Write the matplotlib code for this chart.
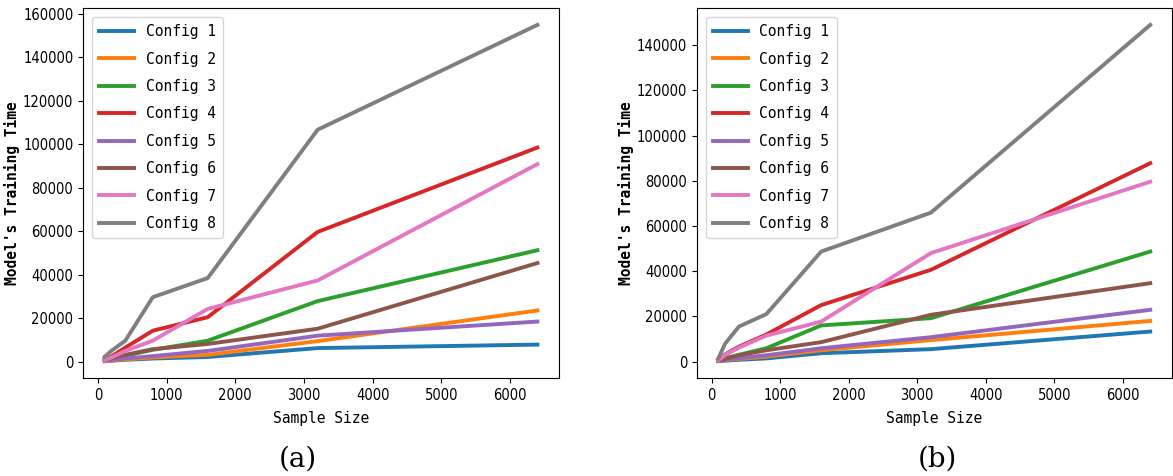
import matplotlib
matplotlib.use('Agg')
import matplotlib.pyplot as plt

# sample sizes used in both experiments
sample_sizes = [100, 200, 400, 800, 1600, 3200, 6400]
labels = ['Config %d' % i for i in range(1, 9)]

# (a) training time per configuration
times_a = [
    [300, 500, 900, 1500, 2200, 6300, 7900],
    [300, 600, 1100, 2000, 3200, 9500, 23600],
    [800, 1500, 2800, 5500, 9700, 27900, 51300],
    [800, 2500, 6500, 14300, 20500, 59700, 98500],
    [500, 900, 1500, 2600, 5000, 12000, 18500],
    [900, 1800, 3200, 5800, 8200, 15200, 45400],
    [800, 2000, 5000, 9700, 24300, 37400, 90900],
    [2300, 5100, 9700, 29700, 38500, 106700, 154900],
]

# (b) training time per configuration
times_b = [
    [200, 400, 800, 1400, 3700, 5500, 13300],
    [300, 600, 1200, 2200, 5000, 9500, 18000],
    [600, 1500, 3000, 5900, 16000, 19200, 48700],
    [700, 3200, 6600, 12000, 25000, 40600, 87800],
    [300, 700, 1500, 2800, 5900, 10800, 22900],
    [500, 1200, 2800, 5000, 8600, 20700, 34700],
    [600, 3000, 6200, 11500, 17700, 48000, 79600],
    [1500, 8000, 15500, 21000, 48700, 65900, 149000],
]

colors = ['#1f77b4', '#ff7f0e', '#2ca02c', '#d62728',
          '#9467bd', '#8c564b', '#e377c2', '#7f7f7f']

mono = 'DejaVu Sans Mono'

fig = plt.figure(figsize=(11.73, 4.76), dpi=100)
ax_a = fig.add_axes([0.0708, 0.206, 0.4058, 0.777])
ax_b = fig.add_axes([0.594, 0.206, 0.405, 0.777])

ax_a.set_yticks(range(0, 160001, 20000))
ax_b.set_yticks(range(0, 140001, 20000))

for ax, data in ((ax_a, times_a), (ax_b, times_b)):
    for vals, lab, c in zip(data, labels, colors):
        ax.plot(sample_sizes, vals, color=c, linewidth=2.8, label=lab)
    ax.set_xticks([0, 1000, 2000, 3000, 4000, 5000, 6000])
    for t in ax.get_xticklabels() + ax.get_yticklabels():
        t.set_fontsize(10.5)
        t.set_fontstretch('condensed')
    ax.set_xlabel('Sample Size', fontsize=10.5, family=mono, labelpad=6)
    ax.set_ylabel("Model's Training Time", fontsize=10.5, family=mono,
                  fontweight='bold', labelpad=2)
    ax.legend(loc='upper left', prop={'family': mono, 'size': 10.5},
              handlelength=2.4, labelspacing=0.85, borderpad=0.5,
              borderaxespad=0.6)

fig.text(0.254, 0.035, '(a)', ha='center', va='center', fontsize=20, family='DejaVu Serif')
fig.text(0.799, 0.035, '(b)', ha='center', va='center', fontsize=20, family='DejaVu Serif')

fig.savefig('out.png', dpi=100)
